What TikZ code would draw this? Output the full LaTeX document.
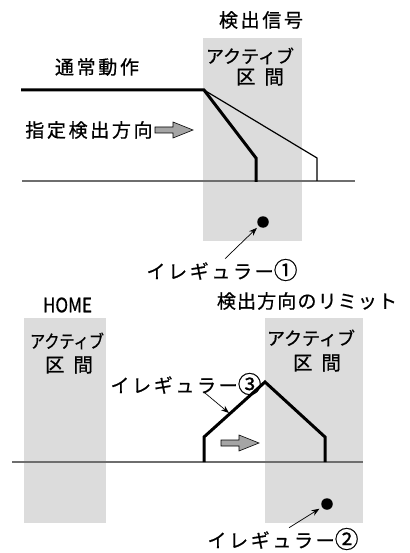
\documentclass[tikz,border=0pt]{standalone}
\usepackage{fontspec}
\setmainfont[FakeBold=0.7]{Noto Sans CJK JP}
\newfontfamily\jpwide[LetterSpace=14,FakeBold=0.7]{Noto Sans CJK JP}
\newfontfamily\jpmid[LetterSpace=6,FakeBold=0.7]{Noto Sans CJK JP}
\usetikzlibrary{arrows.meta}
\definecolor{zone}{HTML}{DCDCDC}
\definecolor{axisgray}{HTML}{6E6E6E}
\definecolor{arrfill}{HTML}{A5A5A5}
\newcommand\circnum[1]{\raisebox{-0.5pt}{\scalebox{1.25}{#1}}}
\begin{document}
\begin{tikzpicture}[x=1pt,y=-1pt,
  lbl/.style={inner sep=0pt, font=\fontsize{18pt}{20pt}\selectfont},
  widelbl/.style={inner sep=0pt, font=\fontsize{19pt}{21pt}\selectfont\jpwide},
  midlbl/.style={inner sep=0pt, font=\fontsize{19pt}{21pt}\selectfont\jpmid},
  kukanlbl/.style={inner sep=0pt, font=\fontsize{19.5pt}{21pt}\selectfont},
  zonebox/.style={fill=zone, draw=none},
  axis/.style={draw=axisgray, line width=1.2pt},
  heavy/.style={line width=3pt, line join=miter, line cap=butt},
  light/.style={line width=1.2pt, line join=miter},
  dotnode/.style={circle, fill=black, inner sep=0pt, minimum size=11.5pt},
  pointer/.style={line width=0.7pt, -{Stealth[length=8pt,width=6pt]}},
  blockarr/.pic={\filldraw[fill=arrfill, draw=black, line width=0.6pt]
     (0,-3) -- (18,-3) -- (18,-8) -- (38,0) -- (18,8) -- (18,3) -- (0,3) -- cycle;}
]
\useasboundingbox (0,0) rectangle (409,553);

% ---------- top diagram ----------
\fill[zonebox] (203,38) rectangle (302,241);
\node[widelbl] (sig) at (261,20) {検出信号};
\node[lbl] (act1) at (250,56) {アクティブ};
\node[kukanlbl] (kukan1) at (260,77) {区\hspace{9pt}間};
\node[widelbl] (normal) at (97,67) {通常動作};
\node[widelbl] (dir) at (89,130) {指定検出方向};
\pic at (155,130) {blockarr};

\draw[axis] (22,181) -- (355,181);
\coordinate (a0) at (21,90);
\coordinate (a1) at (204,90);
\coordinate (a2) at (256,158);
\coordinate (a3) at (256,182);
\coordinate (b2) at (317,158);
\coordinate (b3) at (317,181);
\draw[light] (a1) -- (b2) -- (b3);
\draw[heavy] (a0) -- (a1) -- (a2) -- (a3);

\node[dotnode] (dot1) at (263,222) {};
\node[widelbl] (irr1) at (222,270) {イレギュラー\circnum{①}};
\draw[pointer, shorten >=2.5pt] ([xshift=3pt]irr1.north) -- (dot1);

% ---------- bottom diagram ----------
\fill[zonebox] (24,318) rectangle (106,523);
\fill[zonebox] (265,318) rectangle (363,523);
\node[lbl, xscale=0.95, yscale=1.1] (home) at (67.5,305) {HOME};
\node[midlbl] (limit) at (307,301) {検出方向のリミット};
\node[lbl, xscale=0.84] (act2) at (67,341) {アクティブ};
\node[kukanlbl] (kukan2) at (69,365) {区\hspace{9pt}間};
\node[lbl] (act3) at (311,338) {アクティブ};
\node[kukanlbl] (kukan3) at (317,363) {区\hspace{9pt}間};

\draw[axis] (12,462) -- (363,462);
\coordinate (c0) at (204,462);
\coordinate (c1) at (204,437);
\coordinate (c2) at (265,382);
\coordinate (c3) at (325,437);
\coordinate (c4) at (325,462);
\draw[heavy] (c0) -- (c1) -- (c2) -- (c3) -- (c4);
\pic at (221,443) {blockarr};

\node[widelbl] (irr3) at (186,384) {イレギュラー\circnum{③}};
\coordinate (p3) at (229,413);
\draw[pointer] (205,393) -- (p3);

\node[dotnode] (dot2) at (327,504) {};
\node[widelbl] (irr2) at (283,539) {イレギュラー\circnum{②}};
\draw[pointer, shorten >=3pt] ([xshift=6pt]irr2.north) -- (dot2);
\end{tikzpicture}
\end{document}
